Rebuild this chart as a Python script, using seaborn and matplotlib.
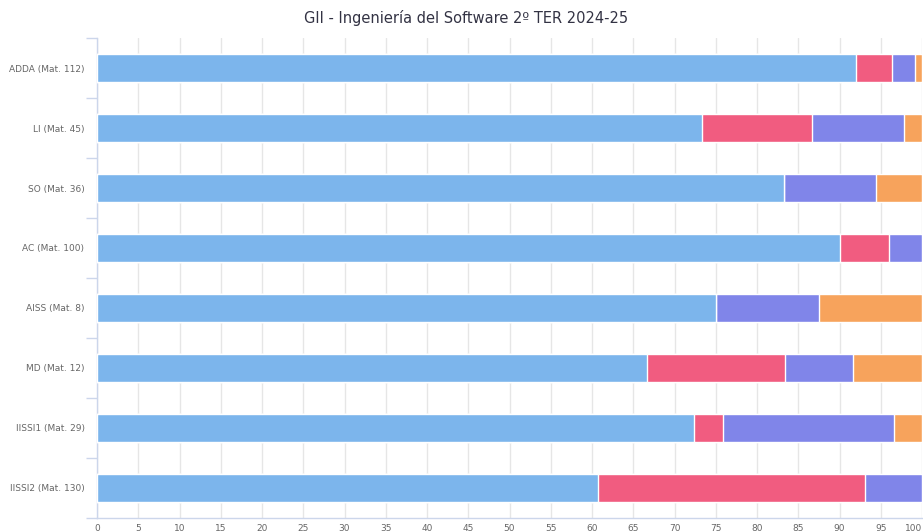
import matplotlib
matplotlib.use("Agg")
import matplotlib.pyplot as plt
import seaborn as sns
import pandas as pd
import numpy as np

categories = ["ADDA (Mat. 112)", "LI (Mat. 45)", "SO (Mat. 36)", "AC (Mat. 100)",
              "AISS (Mat. 8)", "MD (Mat. 12)", "IISSI1 (Mat. 29)", "IISSI2 (Mat. 130)"]
serie_azul = [91.96, 73.33, 83.33, 90.0, 75.0, 66.67, 72.41, 60.77]
serie_roja = [4.46, 13.33, 0.0, 6.0, 0.0, 16.67, 3.45, 32.31]
serie_morada = [2.68, 11.11, 11.11, 4.0, 12.5, 8.33, 20.69, 6.92]
serie_naranja = [0.89, 2.22, 5.56, 0.0, 12.5, 8.33, 3.45, 0.0]
x_ticks = list(range(0, 101, 5))
title = "GII - Ingeniería del Software 2º TER 2024-25"

colors = ["#7cb5ec", "#f15c80", "#8085e9", "#f7a35c"]
series = [serie_azul, serie_roja, serie_morada, serie_naranja]

cum = np.zeros(len(categories))
cums = []
for s in series:
    cum = cum + np.array(s)
    cums.append(cum.copy())

sns.set_theme(style="white")
plt.rcParams['font.family'] = ['DejaVu Sans']

fig = plt.figure(figsize=(9.23, 5.32), dpi=100)
ax = fig.add_axes([97/923, 1 - 518/532, 825/923, 480/532])

# draw stacked: largest cumulative first
for i in range(len(series) - 1, -1, -1):
    d = pd.DataFrame({"cat": categories, "val": cums[i]})
    sns.barplot(data=d, y="cat", x="val", color=colors[i], width=0.47,
                edgecolor="white", linewidth=1.0, saturation=1, ax=ax, zorder=3)

ax.set_xlim(0, 100)
ax.set_ylim(7.5, -0.5)
ax.set_xticks(x_ticks)
ax.set_xticklabels([str(t) for t in x_ticks], fontsize=6.5, color="#666666")
ax.set_yticks(range(len(categories)))
ax.set_yticklabels(categories, fontsize=6.5, color="#666666")
ax.set_yticks(np.arange(-0.5, len(categories), 1.0), minor=True)
ax.tick_params(axis="y", which="major", left=False, length=0, pad=9)
ax.tick_params(axis="y", which="minor", left=True, length=8, color="#ccd6eb",
               width=1, direction="out")
ax.tick_params(axis="x", which="major", bottom=False, length=0, pad=4)
last = ax.get_xticklabels()[-1]
last.set_horizontalalignment("right")
ax.set_xlabel("")
ax.set_ylabel("")
ax.grid(axis="x", color="#e6e6e6", linewidth=1, zorder=0)
ax.set_axisbelow(True)
for side in ["top", "right"]:
    ax.spines[side].set_visible(False)
ax.spines["left"].set_color("#ccd6eb")
ax.spines["bottom"].set_color("#ccd6eb")
ax.spines["left"].set_linewidth(1)
ax.spines["bottom"].set_linewidth(1)

fig.text(0.505, 1 - 18/532, title, ha="center", va="center", fontsize=10.5, color="#333344")

fig.savefig("out.png", dpi=100)
